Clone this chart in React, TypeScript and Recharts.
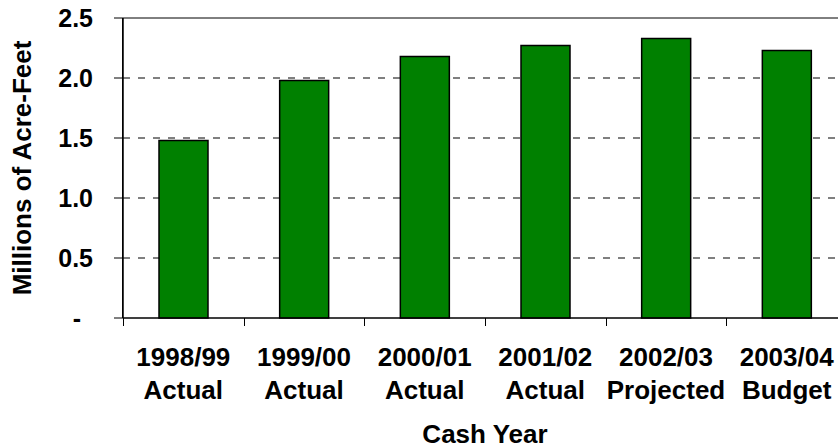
import { BarChart, Bar, XAxis, YAxis, CartesianGrid, Label, Rectangle } from "recharts"

const years = ["1998/99", "1999/00", "2000/01", "2001/02", "2002/03", "2003/04"]
const stages = ["Actual", "Actual", "Actual", "Actual", "Projected", "Budget"]
const acreFeet = [1.48, 1.98, 2.18, 2.27, 2.33, 2.23]
const yTicks = [0, 0.5, 1, 1.5, 2, 2.5]

const data = years.map((year, i) => ({ year, stage: stages[i], value: acreFeet[i] }))

const FONT = "'Liberation Sans', Arial, Helvetica, sans-serif"
const PLOT_TOP = 18
const AXIS_WIDTH = 123
const Y_TICK_SIZE = 9
const Y_TICK_MARGIN = 21

// two-line category label, with the tick mark drawn at the left edge of each band
function YearTick(props: any) {
  const { x, y, payload } = props
  const i = years.indexOf(payload.value)
  const edge = Math.round(x - (payload.offset ?? 0)) + 0.5
  return (
    <g>
      <line x1={edge} y1={y} x2={edge} y2={y + 8} stroke="#000" />
      <text x={x} y={y} textAnchor="middle" fontFamily={FONT} fontWeight="bold" fontSize={26} fill="#000">
        <tspan x={x} dy={48}>{payload.value}</tspan>
        <tspan x={x} dy={33}>{stages[i]}</tspan>
      </text>
    </g>
  )
}

function ValueTick(props: any) {
  const { x, y, payload } = props
  const v = payload.value as number
  // zero shows as a dash, pushed left like the accounting format does
  return (
    <text
      x={v === 0 ? x - 12 : x}
      y={y}
      dy="0.355em"
      textAnchor="end"
      fontFamily={FONT}
      fontWeight="bold"
      fontSize={25}
      fill="#000"
    >
      {v === 0 ? "-" : v.toFixed(1)}
    </text>
  )
}

// bar body; the first bar also carries the value axis line at the plot's left edge
function AcreBar(props: any) {
  const { y, height, index } = props
  return (
    <g>
      {index === 0 && (
        <rect x={AXIS_WIDTH - 1} y={PLOT_TOP} width={1.5} height={y + height - PLOT_TOP} fill="#000" />
      )}
      <Rectangle {...props} />
    </g>
  )
}

// dashed grid, but the outer top and bottom lines stay solid
function HLine(props: any) {
  const { x1, y1, x2, y2, horizontalPoints } = props
  const pts: number[] = horizontalPoints ?? []
  const outer = pts.length > 0 && (y1 === Math.min(...pts) || y1 === Math.max(...pts))
  return <line x1={x1} y1={y1} x2={x2} y2={y2} stroke="#000" strokeDasharray={outer ? undefined : "7 8"} />
}

function YTitle(props: any) {
  const { viewBox } = props
  const cx = 22
  const cy = viewBox.y + viewBox.height / 2
  return (
    <text
      x={cx}
      y={cy}
      dy="0.355em"
      transform={`rotate(-90, ${cx}, ${cy})`}
      textAnchor="middle"
      fontFamily={FONT}
      fontWeight="bold"
      fontSize={26}
      fill="#000"
    >
      Millions of Acre-Feet
    </text>
  )
}

function XTitle(props: any) {
  const { viewBox } = props
  const cx = viewBox.x + viewBox.width / 2
  return (
    <text x={cx} y={443} textAnchor="middle" fontFamily={FONT} fontWeight="bold" fontSize={26} fill="#000">
      Cash Year
    </text>
  )
}

export default function App() {
  return (
    <div style={{ position: "fixed", left: 0, top: 0, width: 838, height: 448, overflow: "hidden", background: "#fff" }}>
      <BarChart width={860} height={448} data={data} margin={{ top: PLOT_TOP, right: 13, left: 0, bottom: 0 }}>
        <CartesianGrid vertical={false} horizontal={(p: any) => <HLine {...p} />} fill="none" />
        <XAxis
          dataKey="year"
          interval={0}
          axisLine={{ stroke: "#000" }}
          tickLine={false}
          tickSize={0}
          tickMargin={0}
          tick={<YearTick />}
          height={130}
        >
          <Label content={<XTitle />} />
        </XAxis>
        <YAxis
          width={AXIS_WIDTH}
          domain={[0, 2.5]}
          ticks={yTicks}
          interval={0}
          axisLine={{ stroke: "#000" }}
          tickLine={{ stroke: "#000" }}
          tickSize={Y_TICK_SIZE}
          tickMargin={Y_TICK_MARGIN}
          tick={<ValueTick />}
        >
          <Label content={<YTitle />} />
        </YAxis>
        <Bar
          dataKey="value"
          fill="#008000"
          stroke="#000"
          strokeWidth={1.5}
          barSize={49}
          shape={(p: any) => <AcreBar {...p} />}
          isAnimationActive={false}
        />
      </BarChart>
    </div>
  )
}
